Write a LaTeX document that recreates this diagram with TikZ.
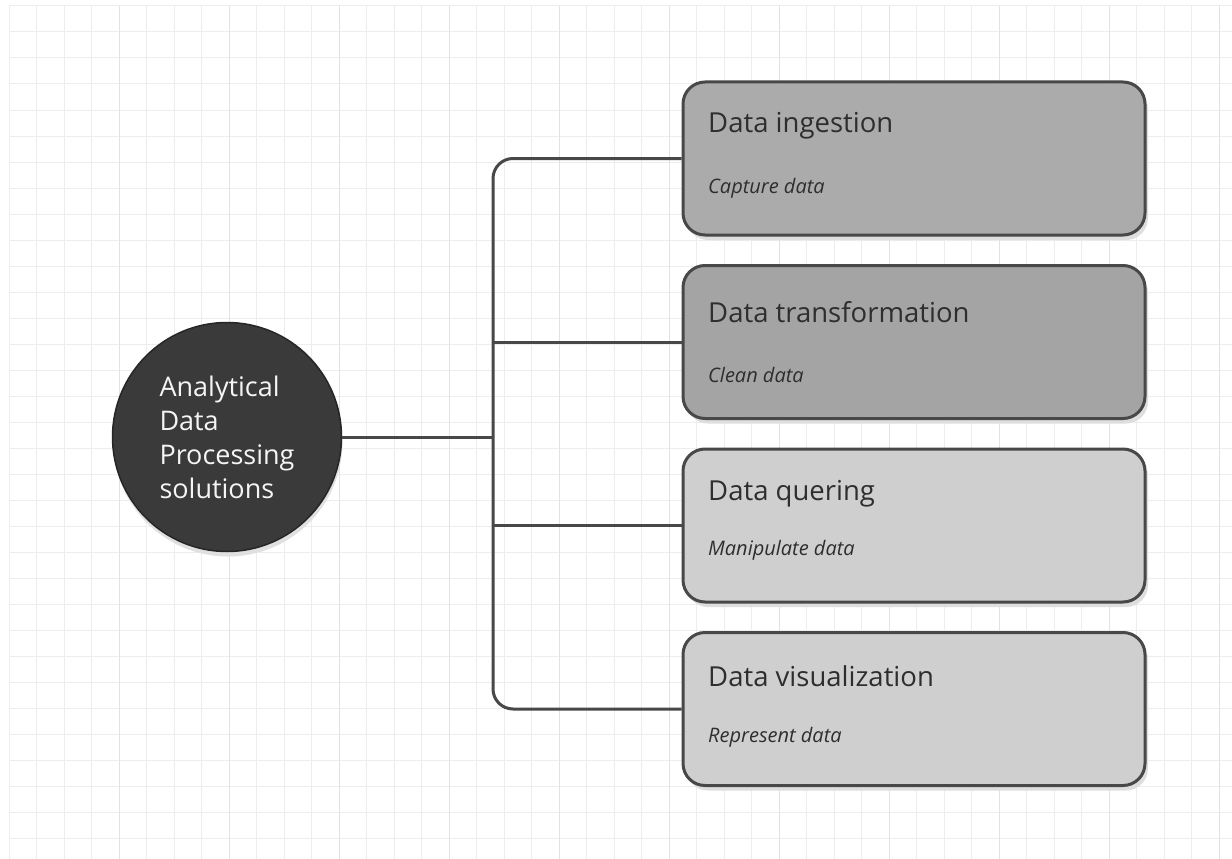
\documentclass[tikz,border=0pt]{standalone}
\usepackage{fontspec}
\setmainfont{Open Sans}
\usetikzlibrary{calc,shadows}

\definecolor{gridcol}{HTML}{EDEDED}
\definecolor{gridcoldark}{HTML}{E2E2E2}
\definecolor{linecol}{HTML}{484848}
\definecolor{hubfill}{HTML}{3A3A3A}
\definecolor{stepdark}{HTML}{ABABAB}
\definecolor{stepdarker}{HTML}{A4A4A4}
\definecolor{steplight}{HTML}{CFCFCF}
\definecolor{textcol}{HTML}{2E2E2E}

\begin{document}
\begin{tikzpicture}[x=1pt,y=-1pt,
    gridline/.style={gridcol,line width=1pt},
    link/.style={linecol,line width=3pt},
    hub/.style={circle,draw=black!85,line width=1.5pt,fill=hubfill,minimum size=229pt,inner sep=0pt,
      text=white!96!black,align=left,font=\fontsize{27}{34}\selectfont,
      drop shadow={shadow xshift=1pt,shadow yshift=-5pt,fill=black!12,opacity=1}},
    stepbox/.style={rectangle,rounded corners=22pt,draw=linecol,line width=3pt,
      minimum width=462pt,minimum height=153pt,inner sep=0pt,
      drop shadow={shadow xshift=3pt,shadow yshift=-5pt,fill=black!13,opacity=1}},
    steptitle/.style={anchor=west,inner sep=0pt,text=textcol,font=\fontsize{27.5}{30}\selectfont},
    stepnote/.style={anchor=west,inner sep=0pt,text=textcol,font=\fontsize{20}{22}\selectfont\itshape}]
  \useasboundingbox[fill=white] (0,0) rectangle (1232,859);

  % background grid
  \foreach \i in {0,...,44}
    \draw[gridline] ({9+27.5*\i},6) -- ({9+27.5*\i},859);
  \foreach \i in {0,...,32}
    \draw[gridline] (9,{6+26*\i}) -- (1232,{6+26*\i});
  \foreach \i in {1,...,11}
    \draw[gridline,gridcoldark] ({9+110*\i},6) -- ({9+110*\i},859);

  \node[hub] (hub) at (227,437) {Analytical\\Data\\Processing\\solutions};

  \node[stepbox,fill=stepdark]   (ingest)    at (914,158.5) {};
  \node[stepbox,fill=stepdarker] (transform) at (914,342) {};
  \node[stepbox,fill=steplight]  (query)     at (914,525.5) {};
  \node[stepbox,fill=steplight]  (visual)    at (914,709) {};

  \node[steptitle] (ingest title)    at (708,126) {Data ingestion};
  \node[stepnote]  (ingest note)     at (708,188) {Capture data};
  \node[steptitle] (transform title) at (708,312) {Data transformation};
  \node[stepnote]  (transform note)  at (708,375) {Clean data};
  \node[steptitle] (query title)     at (708,494) {Data quering};
  \node[stepnote]  (query note)      at (708,550) {Manipulate data};
  \node[steptitle] (visual title)    at (708,676) {Data visualization};
  \node[stepnote]  (visual note)     at (708,737) {Represent data};

  \coordinate (trunk) at (493,437);

  \draw[link] (hub.east) -- (trunk);
  \draw[link,rounded corners=20pt] (ingest.west) -- (ingest.west -| trunk) -- (visual.west -| trunk) -- (visual.west);
  \draw[link] (transform.west -| trunk) -- (transform.west);
  \draw[link] (query.west -| trunk) -- (query.west);
\end{tikzpicture}
\end{document}
